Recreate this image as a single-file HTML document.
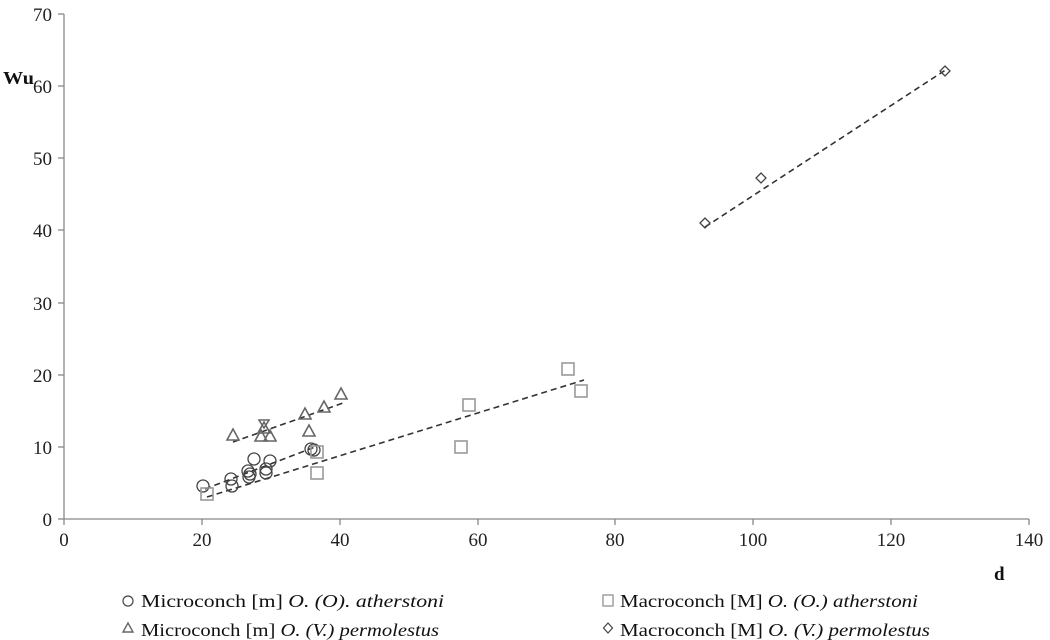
<!DOCTYPE html>
<html><head><style>body{margin:0;background:#fff}svg{display:block}text{font-family:"Liberation Serif",serif}</style></head><body>
<svg width="1050" height="640" viewBox="0 0 1050 640" xmlns="http://www.w3.org/2000/svg" style="font-family:'Liberation Serif',serif" font-size="19">
<g stroke="#888" stroke-width="1.3" fill="none">
<line x1="64" y1="14" x2="64" y2="519"/>
<line x1="64" y1="519" x2="1029" y2="519"/>
<line x1="58" y1="14" x2="64" y2="14"/><line x1="58" y1="86" x2="64" y2="86"/><line x1="58" y1="158" x2="64" y2="158"/><line x1="58" y1="230" x2="64" y2="230"/><line x1="58" y1="303" x2="64" y2="303"/><line x1="58" y1="375" x2="64" y2="375"/><line x1="58" y1="447" x2="64" y2="447"/><line x1="58" y1="519" x2="64" y2="519"/>
<line x1="64" y1="519" x2="64" y2="525"/><line x1="202" y1="519" x2="202" y2="525"/><line x1="340" y1="519" x2="340" y2="525"/><line x1="478" y1="519" x2="478" y2="525"/><line x1="615" y1="519" x2="615" y2="525"/><line x1="753" y1="519" x2="753" y2="525"/><line x1="891" y1="519" x2="891" y2="525"/><line x1="1029" y1="519" x2="1029" y2="525"/>
</g>
<g text-anchor="end" fill="#222">
<text x="52" y="21">70</text><text x="52" y="93">60</text><text x="52" y="165">50</text><text x="52" y="237">40</text><text x="52" y="310">30</text><text x="52" y="382">20</text><text x="52" y="454">10</text><text x="52" y="526">0</text>
</g>
<g text-anchor="middle" fill="#222">
<text x="64" y="546">0</text><text x="202" y="546">20</text><text x="340" y="546">40</text><text x="478" y="546">60</text><text x="615" y="546">80</text><text x="753" y="546">100</text><text x="891" y="546">120</text><text x="1029" y="546">140</text>
</g>
<text x="3" y="84" font-weight="bold" fill="#111" font-size="18" textLength="31" lengthAdjust="spacingAndGlyphs">Wu</text>
<text x="994" y="580" font-weight="bold" fill="#111">d</text>
<g stroke="#333" stroke-width="1.6" stroke-dasharray="6,4" fill="none">
<line x1="233" y1="442" x2="343" y2="403"/>
<line x1="205" y1="489" x2="315" y2="447"/>
<line x1="207" y1="497" x2="584" y2="380"/>
<line x1="705" y1="227" x2="947" y2="69"/>
</g>
<g stroke="#444" stroke-width="1.3" fill="none">
<circle cx="203" cy="486" r="6"/><circle cx="231" cy="479" r="6"/><circle cx="232" cy="486" r="6"/><circle cx="248" cy="471" r="6"/><circle cx="249" cy="477" r="6"/><circle cx="250" cy="474" r="6"/><circle cx="254" cy="459" r="6"/><circle cx="266" cy="473" r="6"/><circle cx="266" cy="469" r="6"/><circle cx="270" cy="461" r="6"/><circle cx="311" cy="449" r="6"/><circle cx="314" cy="450" r="6"/>
</g>
<g stroke="#666" stroke-width="1.6" fill="none">
<path d="M233 429l6 11h-12z"/><path d="M264 422l6 11h-12z"/><path d="M261 430l6 11h-12z"/><path d="M270 430l6 11h-12z"/><path d="M305 408l6 11h-12z"/><path d="M309 425l6 11h-12z"/><path d="M324 401l6 11h-12z"/><path d="M341 388l6 11h-12z"/>
<path d="M264 428l-5 -8h10z"/>
</g>
<g stroke="#999" stroke-width="1.6" fill="none">
<rect x="201" y="488" width="12" height="12"/><rect x="311" y="446" width="12" height="12"/><rect x="311" y="467" width="12" height="12"/><rect x="455" y="441" width="12" height="12"/><rect x="463" y="399" width="12" height="12"/><rect x="562" y="363" width="12" height="12"/><rect x="575" y="385" width="12" height="12"/>
</g>
<g stroke="#444" stroke-width="1.3" fill="none">
<path d="M705 218l5 5l-5 5l-5 -5z"/><path d="M761 173l5 5l-5 5l-5 -5z"/><path d="M945 66l5 5l-5 5l-5 -5z"/>
</g>
<g fill="#111" font-size="18">
<circle cx="128" cy="601" r="5" fill="none" stroke="#444" stroke-width="1.2"/>
<text x="141" y="607" textLength="303" lengthAdjust="spacingAndGlyphs">Microconch [m] <tspan font-style="italic">O. (O). atherstoni</tspan></text>
<path d="M128 623l5 9h-10z" fill="none" stroke="#666" stroke-width="1.4"/>
<text x="141" y="636" textLength="298" lengthAdjust="spacingAndGlyphs">Microconch [m] <tspan font-style="italic">O. (V.) permolestus</tspan></text>
<rect x="603" y="595" width="10" height="11" fill="none" stroke="#999" stroke-width="1.4"/>
<text x="620" y="607" textLength="298" lengthAdjust="spacingAndGlyphs">Macroconch [M] <tspan font-style="italic">O. (O.) atherstoni</tspan></text>
<path d="M608 623l4.5 5l-4.5 5l-4.5 -5z" fill="none" stroke="#444" stroke-width="1.2"/>
<text x="620" y="636" textLength="310" lengthAdjust="spacingAndGlyphs">Macroconch [M] <tspan font-style="italic">O. (V.) permolestus</tspan></text>
</g>
</svg>
</body></html>
